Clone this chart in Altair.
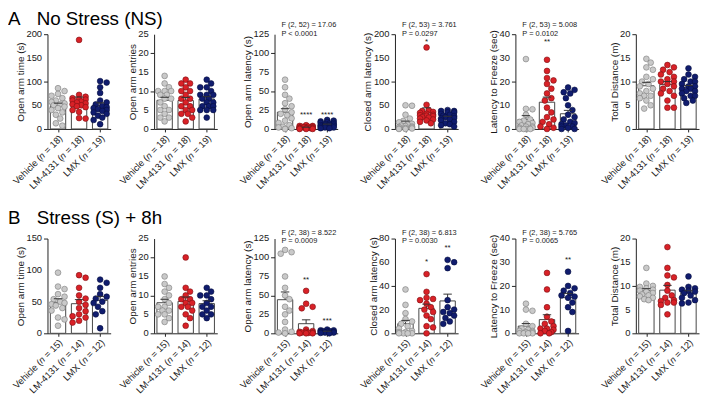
import altair as alt
import pandas as pd

FONT = "Liberation Sans"
TX = "#1a1a1a"
AX = "#222222"
FILLS = ["#c9c9c9", "#d92127", "#101c6e"]
STROKES = ["#7a7a7a", "#7a0f12", "#070f3f"]

groups = ["Vehicle", "LM-4131", "LMX"]
n_A = [18, 18, 19]
n_B = [15, 14, 12]

titles = ["Open arm time (s)", "Open arm entries", "Open arm latency (s)",
          "Closed arm latency (s)", "Latency to Freeze (sec)", "Total Distance (m)"]
ymax_A = [200, 25, 125, 200, 40, 20]
step_A = [50, 5, 25, 50, 10, 5]
ymax_B = [150, 25, 125, 80, 40, 20]
step_B = [50, 5, 25, 20, 10, 5]

stats_A = ["", "", "F (2, 52) = 17.06|P < 0.0001", "F (2, 53) = 3.761|P = 0.0297",
           "F (2, 53) = 5.008|P = 0.0102", ""]
stats_B = ["", "", "F (2, 38) = 8.522|P = 0.0009", "F (2, 38) = 6.813|P = 0.0030",
           "F (2, 38) = 5.765|P = 0.0065", ""]

# significance marks: (panel index, group index, text, height in data units)
stars_A = [(2, 1, "****", 19), (2, 2, "****", 19), (3, 1, "*", 184), (4, 1, "**", 36.5)]
stars_B = [(2, 1, "**", 70), (2, 2, "***", 16), (3, 1, "*", 60.5), (3, 2, "**", 72), (4, 2, "**", 31)]

# ---- Row A: No Stress ----
a_time_veh = [86, 80, 74, 70, 65, 60, 57, 54, 52, 50, 47, 44, 40, 35, 30, 22, 12, 7]
a_time_lm = [188, 72, 68, 65, 63, 62, 60, 58, 56, 54, 52, 50, 48, 46, 40, 36, 23, 22]
a_time_lmx = [101, 98, 88, 76, 60, 56, 52, 48, 46, 44, 42, 40, 38, 35, 32, 28, 24, 19, 10]

a_ent_veh = [14, 12, 11, 10, 10, 10, 9, 9, 8, 8, 7, 6, 5, 5, 4, 3, 3, 2]
a_ent_lm = [13, 12, 12, 11, 10, 10, 9, 8, 8, 7, 6, 6, 5, 5, 4, 4, 3, 2]
a_ent_lmx = [13, 12, 11, 11, 10, 9, 9, 9, 8, 8, 7, 7, 6, 6, 6, 5, 5, 5, 3]

a_olat_veh = [65, 55, 45, 40, 34, 30, 26, 22, 20, 18, 14, 11, 8, 5, 3, 2, 1, 0]
a_olat_lm = [5, 4, 4, 3, 3, 3, 2, 2, 2, 2, 1, 1, 1, 1, 1, 0, 0, 0]
a_olat_lmx = [12, 11, 10, 9, 8, 8, 7, 6, 6, 5, 5, 4, 4, 3, 3, 2, 2, 1, 1]

a_clat_veh = [50, 49, 30, 22, 17, 14, 11, 9, 7, 6, 5, 4, 3, 2, 1, 1, 0, 0]
a_clat_lm = [172, 51, 40, 38, 36, 34, 32, 30, 29, 28, 27, 25, 24, 22, 20, 18, 15, 12]
a_clat_lmx = [40, 38, 38, 35, 35, 32, 30, 28, 27, 25, 23, 22, 20, 18, 15, 12, 10, 8, 5]

a_frz_veh = [29.5, 8.5, 8.3, 6, 4, 3.5, 3, 2.5, 2, 1.5, 1, 1, 0.5, 0.5, 0, 0, 0, 0]
a_frz_lm = [29.2, 24.5, 21.5, 20.5, 19, 17, 15, 13, 12, 9, 7, 5, 4, 3, 2, 1, 0.5, 0]
a_frz_lmx = [17.5, 16.5, 15.5, 15, 13, 10, 8, 6, 5, 4, 3, 2.5, 2, 1.5, 1, 1, 0.5, 0, 0]

a_dist_veh = [14.8, 14, 13, 12.5, 11, 10.5, 10, 9.5, 9, 8.5, 8, 7.5, 7, 7, 6.5, 6, 5, 4.3]
a_dist_lm = [13.5, 13, 12.5, 12, 11.5, 11, 10.5, 10, 10, 9.5, 9, 8.5, 8, 7.5, 7, 6, 4.5, 4.5]
a_dist_lmx = [12.8, 11.5, 11, 10.5, 10, 10, 9.5, 9, 9, 8.5, 8.5, 8, 8, 7.5, 7, 7, 6.5, 6, 5.5]

# ---- Row B: Stress + 8h ----
b_time_veh = [96, 74, 70, 62, 58, 54, 50, 48, 46, 44, 40, 36, 25, 22, 12]
b_time_lm = [92, 88, 72, 60, 55, 50, 45, 40, 35, 30, 27, 25, 20, 17]
b_time_lmx = [85, 80, 72, 62, 58, 55, 50, 48, 42, 35, 30, 8]

b_ent_veh = [15, 13, 12, 11, 10, 9, 8, 7, 7, 6, 6, 5, 5, 4, 3]
b_ent_lm = [20, 12, 11, 10, 9, 9, 8, 8, 7, 7, 6, 5, 4, 2]
b_ent_lmx = [12, 11, 10, 10, 9, 8, 7, 7, 6, 5, 5, 4]

b_olat_veh = [110, 107, 105, 75, 60, 50, 45, 35, 30, 25, 15, 5, 2, 1, 0]
b_olat_lm = [56, 39, 35, 33, 5, 3, 2, 2, 1, 1, 0.5, 0, 0, 0]
b_olat_lmx = [5, 4, 4, 3, 3, 2, 2, 2, 1, 1, 0.5, 0]

b_clat_veh = [37, 24, 17, 12, 10, 8, 6, 4, 2, 1, 1, 0, 0, 0, 0]
b_clat_lm = [50, 35, 30, 29, 28, 25, 22, 20, 18, 15, 12, 6, 5, 0]
b_clat_lmx = [62, 60, 55, 28, 22, 20, 18, 17, 15, 13, 10, 8]

b_frz_veh = [12.5, 10, 9.5, 4, 3, 2, 1.5, 1, 1, 0.5, 0.5, 0, 0, 0, 0]
b_frz_lm = [25.5, 18.5, 11, 7, 5, 4, 3, 2, 2, 1.5, 1, 0.5, 0, 0]
b_frz_lmx = [26, 20, 19, 18, 17, 16, 15.5, 15, 13, 11, 9, 1]

b_dist_veh = [13.8, 10.5, 10, 9.8, 9.5, 9.2, 9, 8.8, 8.5, 8.2, 8, 7.8, 7.5, 7.2, 7]
b_dist_lm = [18.2, 13.8, 12.2, 11.8, 10.2, 9, 8, 7.5, 7, 6.8, 6.5, 6.5, 6, 4]
b_dist_lmx = [12, 9.8, 9.5, 9.2, 9, 8.8, 8.5, 8, 7.5, 7, 6.5, 6.3]

rowA_data = [
    [a_time_veh, a_time_lm, a_time_lmx], [a_ent_veh, a_ent_lm, a_ent_lmx],
    [a_olat_veh, a_olat_lm, a_olat_lmx], [a_clat_veh, a_clat_lm, a_clat_lmx],
    [a_frz_veh, a_frz_lm, a_frz_lmx], [a_dist_veh, a_dist_lm, a_dist_lmx]]
rowB_data = [
    [b_time_veh, b_time_lm, b_time_lmx], [b_ent_veh, b_ent_lm, b_ent_lmx],
    [b_olat_veh, b_olat_lm, b_olat_lmx], [b_clat_veh, b_clat_lm, b_clat_lmx],
    [b_frz_veh, b_frz_lm, b_frz_lmx], [b_dist_veh, b_dist_lm, b_dist_lmx]]

# ---- layout constants ----
H = 96
XR = 64                 # pixel span of the x axis in each panel
PX_PER_UNIT = XR / 3.0  # one group slot
SPACING = 44
WIDTHS = [64, 77.5, 77.5, 77.5, 77.5, 64]
DIAM = 5.6
STEP_PX = 2.2
MAX_OFF = 6.6
BAR_HALF = 0.365
CAP_HALF = 0.2
LABEL_FS = 9.5


def swarm(vals, ymax):
    """Deterministic beeswarm offsets (pixels) so points do not overlap much."""
    order = sorted(range(len(vals)), key=lambda i: -vals[i])
    cands = [0.0]
    k = 1
    while k * STEP_PX <= MAX_OFF + 1e-9:
        cands += [k * STEP_PX, -k * STEP_PX]
        k += 1
    placed = []
    offs = [0.0] * len(vals)
    for i in order:
        y = vals[i] / ymax * H
        best, bestov = 0.0, 1e9
        for c in cands:
            ov = 0.0
            for py, px in placed:
                d = ((py - y) ** 2 + (px - c) ** 2) ** 0.5
                if d < DIAM:
                    ov += DIAM - d
            if ov == 0:
                best = c
                break
            if ov < bestov:
                bestov, best = ov, c
        offs[i] = best
        placed.append((y, best))
    return offs


def make_panel(vals3, title, ymax, step, ns, stats, stars, width, head=None, head_y=-10,
               stats_y=-3):
    labels = [f"{g} (\U0001D45B = {n})" for g, n in zip(groups, ns)]
    recs = []
    for gi, vals in enumerate(vals3):
        for v, o in zip(vals, swarm(vals, ymax)):
            recs.append({"gi": gi, "value": v, "dx": o / PX_PER_UNIT})
    df = pd.DataFrame(recs)
    ticks = list(range(0, ymax + 1, step))
    label_w = len(str(ymax)) * LABEL_FS * 0.556

    xscale = alt.Scale(domain=[0, 3], range=[0, XR], nice=False, zero=False)
    xaxis = alt.Axis(title=None, values=[0.5, 1.5, 2.5], labels=False, tickSize=3,
                     domainColor=AX, tickColor=AX)
    yaxis = alt.Axis(values=ticks, title=title, labels=False,
                     titleFontSize=10, titleFontWeight="normal", titleColor=TX,
                     titlePadding=label_w + 2, tickSize=4, domainColor=AX, tickColor=AX)
    yscale = alt.Scale(domain=[0, ymax], nice=False)

    base = alt.Chart(df)
    agg = base.transform_aggregate(
        m="mean(value)", se="stderr(value)", groupby=["gi"]
    ).transform_calculate(
        hi="datum.m + datum.se", xc="datum.gi + 0.5", zero="0",
        xb1=f"datum.gi + 0.5 - {BAR_HALF}", xb2=f"datum.gi + 0.5 + {BAR_HALF}",
        xk1=f"datum.gi + 0.5 - {CAP_HALF}", xk2=f"datum.gi + 0.5 + {CAP_HALF}")
    bars = agg.mark_rect(fill="white", stroke="#444444", strokeWidth=1).encode(
        x=alt.X("xb1:Q", scale=xscale, axis=xaxis), x2="xb2:Q",
        y=alt.Y("m:Q", scale=yscale, axis=yaxis), y2="zero:Q")
    rule = agg.mark_rule(color="#333333", strokeWidth=1).encode(
        x="xc:Q", y="m:Q", y2="hi:Q")
    cap = agg.mark_rule(color="#333333", strokeWidth=1).encode(
        x="xk1:Q", x2="xk2:Q", y="hi:Q")
    pts = base.transform_calculate(xp="datum.gi + 0.5 + datum.dx").mark_circle(
        size=34, opacity=1, strokeWidth=0.6).encode(
        x="xp:Q", y="value:Q",
        fill=alt.Fill("gi:N", scale=alt.Scale(domain=[0, 1, 2], range=FILLS), legend=None),
        stroke=alt.Stroke("gi:N", scale=alt.Scale(domain=[0, 1, 2], range=STROKES), legend=None),
    )
    # tick labels drawn as text through the panel's own scales
    ylab = alt.Chart(pd.DataFrame({"tv": ticks, "tl": [str(t) for t in ticks]})).mark_text(
        align="right", baseline="middle", fontSize=LABEL_FS, color=TX, dx=-5.5).encode(
        x=alt.value(0), y="tv:Q", text="tl:N")
    xlab = alt.Chart(pd.DataFrame({"gi": [0, 1, 2], "lab": labels})).transform_calculate(
        xc="datum.gi + 0.5").mark_text(
        align="right", baseline="middle", angle=315, fontSize=LABEL_FS, color=TX,
        xOffset=3).encode(x="xc:Q", y=alt.value(H + 8), text="lab:N")
    layers = [bars, rule, pts, cap, ylab, xlab]
    if stars:
        sdf = pd.DataFrame([{"gi": g, "star": t, "sy": h} for g, t, h in stars])
        layers.append(alt.Chart(sdf).transform_calculate(xc="datum.gi + 0.5").mark_text(
            fontSize=8, baseline="middle", color=TX).encode(
            x="xc:Q", y="sy:Q", text="star:N"))
    if stats:
        layers.append(alt.Chart(pd.DataFrame({"t": [stats]})).mark_text(
            align="left", baseline="bottom", fontSize=7.5, lineBreak="|", lineHeight=8.5,
            color=TX).encode(text="t:N", x=alt.value(7), y=alt.value(stats_y)))
    if head:
        letter, name = head
        layers.append(alt.Chart(pd.DataFrame({"t": [letter]})).mark_text(
            align="left", baseline="alphabetic", fontSize=19, color="#000000").encode(
            text="t:N", x=alt.value(-40), y=alt.value(head_y)))
        layers.append(alt.Chart(pd.DataFrame({"t": [name]})).mark_text(
            align="left", baseline="alphabetic", fontSize=19, color="#000000").encode(
            text="t:N", x=alt.value(-11), y=alt.value(head_y)))
    return alt.layer(*layers).properties(width=width, height=H)


def make_row(data, ymaxs, steps, ns, stats, stars, head, head_y, stats_y):
    panels = []
    for i in range(6):
        st = [(g, t, h) for (p, g, t, h) in stars if p == i]
        panels.append(make_panel(data[i], titles[i], ymaxs[i], steps[i], ns, stats[i], st,
                                 WIDTHS[i], head if i == 0 else None, head_y, stats_y))
    return alt.hconcat(*panels, spacing=SPACING, bounds="flush")


rowA = make_row(rowA_data, ymax_A, step_A, n_A, stats_A, stars_A, ("A", "No Stress (NS)"), -9, -5)
rowB = make_row(rowB_data, ymax_B, step_B, n_B, stats_B, stars_B, ("B", "Stress (S) + 8h"), -15, -2)

chart = alt.vconcat(rowA, rowB, spacing=18).properties(padding=0).configure(
    font=FONT).configure_view(stroke=None).configure_axis(grid=False)

chart.save("out.html", embed_options={"renderer": "svg", "actions": False})
